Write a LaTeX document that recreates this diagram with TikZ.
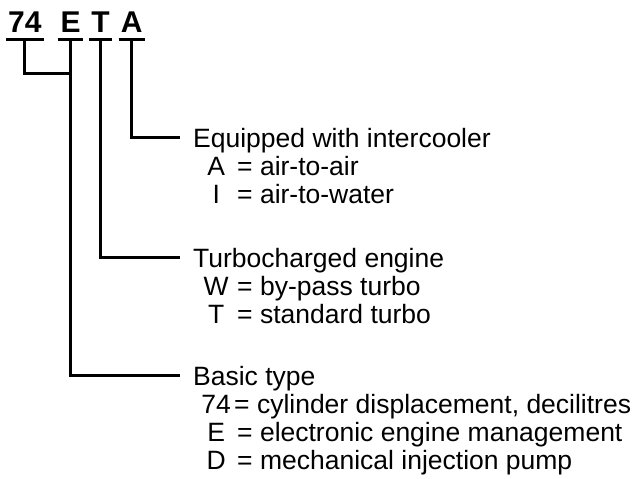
\documentclass[tikz,border=0pt]{standalone}
\usepackage{fontspec}
\setmainfont{Liberation Sans}
\usepackage{tikz}
\usetikzlibrary{positioning}
\newcommand{\keyline}[3][21pt]{\hspace*{23pt}\makebox[0pt]{#2}\hspace*{#1}= #3}
\tikzset{
	code/.style={
		font=\fontsize{30}{30}\selectfont\bfseries,
		inner xsep=2pt, inner ysep=7.5pt
	},
	block/.style={
		inner sep=0pt, anchor=base west,
		font=\fontsize{26.5}{28}\selectfont
	},
	leader/.style={line width=3pt}
}

\begin{document}
\begin{tikzpicture}[x=1pt,y=1pt]
				\useasboundingbox (0,0) rectangle (640,-479);
				\node[code,anchor=base west] (n74) at (6,-32) {74};
				\node[code] (nE) [base right=14.6pt of n74] {E};
				\node[code] (nT) [base right=6.4pt of nE] {T};
				\node[code] (nA) [base right=6.8pt of nT] {A};
				\node[block] (dA) at (193,-147) {\begin{tabular}[t]{@{}l@{}}
					Equipped with intercooler\\
					\keyline{A}{air-to-air}\\
					\keyline{I}{air-to-water}
				\end{tabular}};
				\node[block] (dT) at (193,-267) {\begin{tabular}[t]{@{}l@{}}
					Turbocharged engine\\
					\keyline{W}{by-pass turbo}\\
					\keyline{T}{standard turbo}
				\end{tabular}};
				\node[block] (dB) at (193,-385) {\begin{tabular}[t]{@{}l@{}}
					Basic type\\
					\keyline[18pt]{74}{cylinder displacement, decilitres}\\
					\keyline{E}{electronic engine management}\\
					\keyline{D}{mechanical injection pump}
				\end{tabular}};
				\coordinate (join) at (nE.south |- 0,-73);
				\foreach \n in {n74,nE,nT,nA}
					\draw[leader] (\n.south west) -- (\n.south east);
				\draw[leader] (n74.south) |- (join);
				\draw[leader] (nA.south) |- ([shift={(-13pt,10pt)}]dA.base west);
				\draw[leader] (nT.south) |- ([shift={(-13pt,10pt)}]dT.base west);
				\draw[leader] (nE.south) |- ([shift={(-13pt,10pt)}]dB.base west);
			\end{tikzpicture}
\end{document}
